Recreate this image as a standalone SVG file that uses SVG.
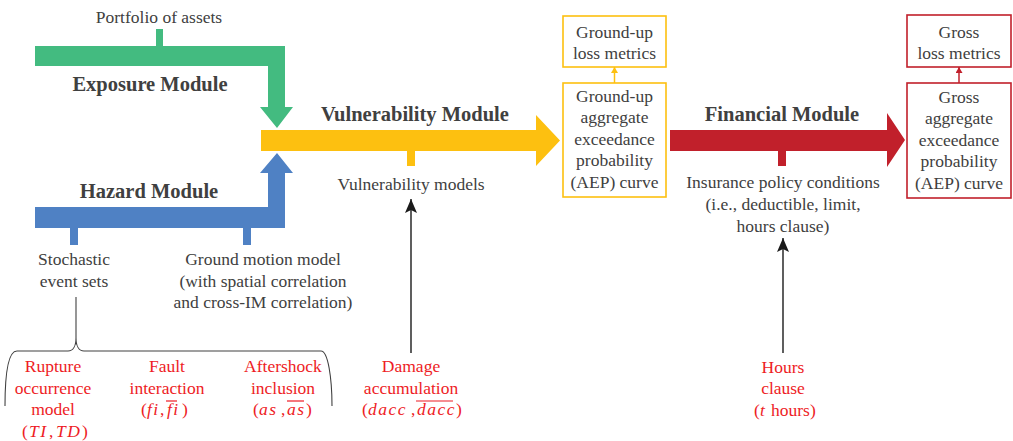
<svg xmlns="http://www.w3.org/2000/svg" width="1013" height="441" viewBox="0 0 1013 441">
<defs>
<style>
.t{font-family:"Liberation Serif","Times New Roman",serif;font-size:17.5px;fill:#404040;text-anchor:middle}
.b{font-family:"Liberation Serif","Times New Roman",serif;font-size:20.5px;font-weight:bold;fill:#404040;text-anchor:middle}
.r{font-family:"Liberation Serif","Times New Roman",serif;font-size:17.5px;fill:#EE1C25;text-anchor:middle}
.rs{font-family:"Liberation Serif","Times New Roman",serif;font-size:17.5px;fill:#EE1C25;text-anchor:start}
.i{font-style:italic;letter-spacing:1.5px}
.ol{stroke:#EE1C25;stroke-width:1.2}
.bl{stroke:#1a1a1a;stroke-width:1.4;fill:none}
.br{stroke:#404040;stroke-width:1.1;fill:none}
</style>
<marker id="ah" markerUnits="userSpaceOnUse" markerWidth="14" markerHeight="16" refX="14" refY="6" orient="auto">
<path d="M0,0 L14,6 L0,12 L3,6 Z" fill="#1a1a1a"/>
</marker>
<marker id="ay" markerUnits="userSpaceOnUse" markerWidth="8" markerHeight="8" refX="6" refY="3.5" orient="auto">
<path d="M0,0 L6,3.5 L0,7 Z" fill="#FDC010"/>
</marker>
<marker id="ar" markerUnits="userSpaceOnUse" markerWidth="8" markerHeight="8" refX="6" refY="3.5" orient="auto">
<path d="M0,0 L6,3.5 L0,7 Z" fill="#C1202B"/>
</marker>
</defs>
<rect width="1013" height="441" fill="#ffffff"/>

<g id="exposure">
<rect x="156" y="29" width="7" height="18" fill="#43BB80"/>
<path d="M35,46 L285,46 L285,107 L293,107 L277,128 L260,107 L268,107 L268,66 L35,66 Z" fill="#43BB80"/>
<text class="t" x="159" y="23">Portfolio of assets</text>
<text class="b" x="150" y="91">Exposure Module</text>
</g>

<g id="hazard">
<path d="M35,207 L268,207 L268,173 L260,173 L277,153 L293,173 L285,173 L285,228 L35,228 Z" fill="#4F81C4"/>
<rect x="70" y="227" width="8" height="18" fill="#4F81C4"/>
<rect x="243" y="227" width="8" height="18" fill="#4F81C4"/>
<text class="b" x="149" y="198">Hazard Module</text>
<text class="t" x="74" y="265">Stochastic</text>
<text class="t" x="74" y="287">event sets</text>
<text class="t" x="263" y="265">Ground motion model</text>
<text class="t" x="263" y="287">(with spatial correlation</text>
<text class="t" x="263" y="308">and cross-IM correlation)</text>
</g>

<g id="vulnerability">
<path d="M261,130 L536,130 L536,115 L560,140.5 L536,166 L536,151 L261,151 Z" fill="#FDC010"/>
<rect x="407" y="150" width="8" height="16" fill="#FDC010"/>
<text class="b" x="415" y="121">Vulnerability Module</text>
<text class="t" x="411" y="190">Vulnerability models</text>
</g>

<g id="groundup-aep">
<rect x="563" y="83" width="103" height="114" fill="#fff" stroke="#FDC010" stroke-width="1.6"/>
<text class="t" x="614.5" y="101.5">Ground-up</text>
<text class="t" x="614.5" y="123">aggregate</text>
<text class="t" x="614.5" y="144.5">exceedance</text>
<text class="t" x="614.5" y="166">probability</text>
<text class="t" x="614.5" y="187.5">(AEP) curve</text>
</g>

<g id="groundup-metrics">
<rect x="563" y="16" width="103" height="51" fill="#fff" stroke="#FDC010" stroke-width="1.6"/>
<text class="t" x="614.5" y="38">Ground-up</text>
<text class="t" x="614.5" y="59">loss metrics</text>
</g>

<g id="financial">
<path d="M670,130 L887,130 L887,113 L905,140 L887,167 L887,151 L670,151 Z" fill="#C1202B"/>
<rect x="778" y="150" width="8" height="16" fill="#C1202B"/>
<text class="b" x="782" y="121">Financial Module</text>
<text class="t" x="783" y="188">Insurance policy conditions</text>
<text class="t" x="783" y="210">(i.e., deductible, limit,</text>
<text class="t" x="783" y="231.5">hours clause)</text>
</g>

<g id="gross-aep">
<rect x="907" y="83" width="104" height="115" fill="#fff" stroke="#C1202B" stroke-width="1.6"/>
<text class="t" x="959" y="102.5">Gross</text>
<text class="t" x="959" y="124">aggregate</text>
<text class="t" x="959" y="145.5">exceedance</text>
<text class="t" x="959" y="167">probability</text>
<text class="t" x="959" y="188.5">(AEP) curve</text>
</g>

<g id="gross-metrics">
<rect x="907" y="15" width="104" height="52" fill="#fff" stroke="#C1202B" stroke-width="1.6"/>
<text class="t" x="959" y="37.5">Gross</text>
<text class="t" x="959" y="58.5">loss metrics</text>
</g>

<g id="rupture">
<text class="r" x="53" y="372">Rupture</text>
<text class="r" x="53" y="394">occurrence</text>
<text class="r" x="53" y="415">model</text>
<text class="rs" y="437"><tspan x="22">(</tspan><tspan x="29" class="i">TI</tspan><tspan x="49">,</tspan><tspan x="56" class="i">TD</tspan><tspan x="82">)</tspan></text>
</g>

<g id="fault">
<text class="r" x="167" y="372">Fault</text>
<text class="r" x="167" y="394">interaction</text>
<text class="rs" y="415"><tspan x="141">(</tspan><tspan x="147" class="i">fi</tspan><tspan x="160">,</tspan><tspan x="167" class="i">fi</tspan><tspan x="182">)</tspan></text>
<line class="ol" x1="166" y1="401" x2="177" y2="401"/>
</g>

<g id="aftershock">
<text class="r" x="283" y="372">Aftershock</text>
<text class="r" x="283" y="394">inclusion</text>
<text class="rs" y="415"><tspan x="253">(</tspan><tspan x="259" class="i">as</tspan><tspan x="281">,</tspan><tspan x="287" class="i">as</tspan><tspan x="306">)</tspan></text>
<line class="ol" x1="287" y1="401" x2="304" y2="401"/>
</g>

<g id="damage">
<text class="r" x="411" y="372">Damage</text>
<text class="r" x="411" y="394">accumulation</text>
<text class="rs" y="415"><tspan x="362">(</tspan><tspan x="368" class="i">dacc</tspan><tspan x="411">,</tspan><tspan x="417" class="i">dacc</tspan><tspan x="456">)</tspan></text>
<line class="ol" x1="416" y1="401" x2="453" y2="401"/>
</g>

<g id="hours">
<text class="r" x="783" y="373">Hours</text>
<text class="r" x="783" y="394">clause</text>
<text class="rs" y="415.5"><tspan x="754">(</tspan><tspan x="760" class="i">t</tspan><tspan x="771">hours)</tspan></text>
</g>

<g id="connectors">
<path class="br" d="M76,297 L76,338"/>
<path class="br" d="M5,406 C5,378 7,351 17,351 L68,351 C73,351 76,346 76,338 C76,346 79,351 84,351 L321,351 C328,351 332,378 332,406"/>
<path class="bl" d="M411,353 L411,199" marker-end="url(#ah)"/>
<path class="bl" d="M783,353 L783,238" marker-end="url(#ah)"/>
<path d="M614.5,83 L614.5,67" stroke="#FDC010" stroke-width="1.5" marker-end="url(#ay)"/>
<path d="M959,83 L959,67" stroke="#C1202B" stroke-width="1.5" marker-end="url(#ar)"/>
</g>
</svg>
